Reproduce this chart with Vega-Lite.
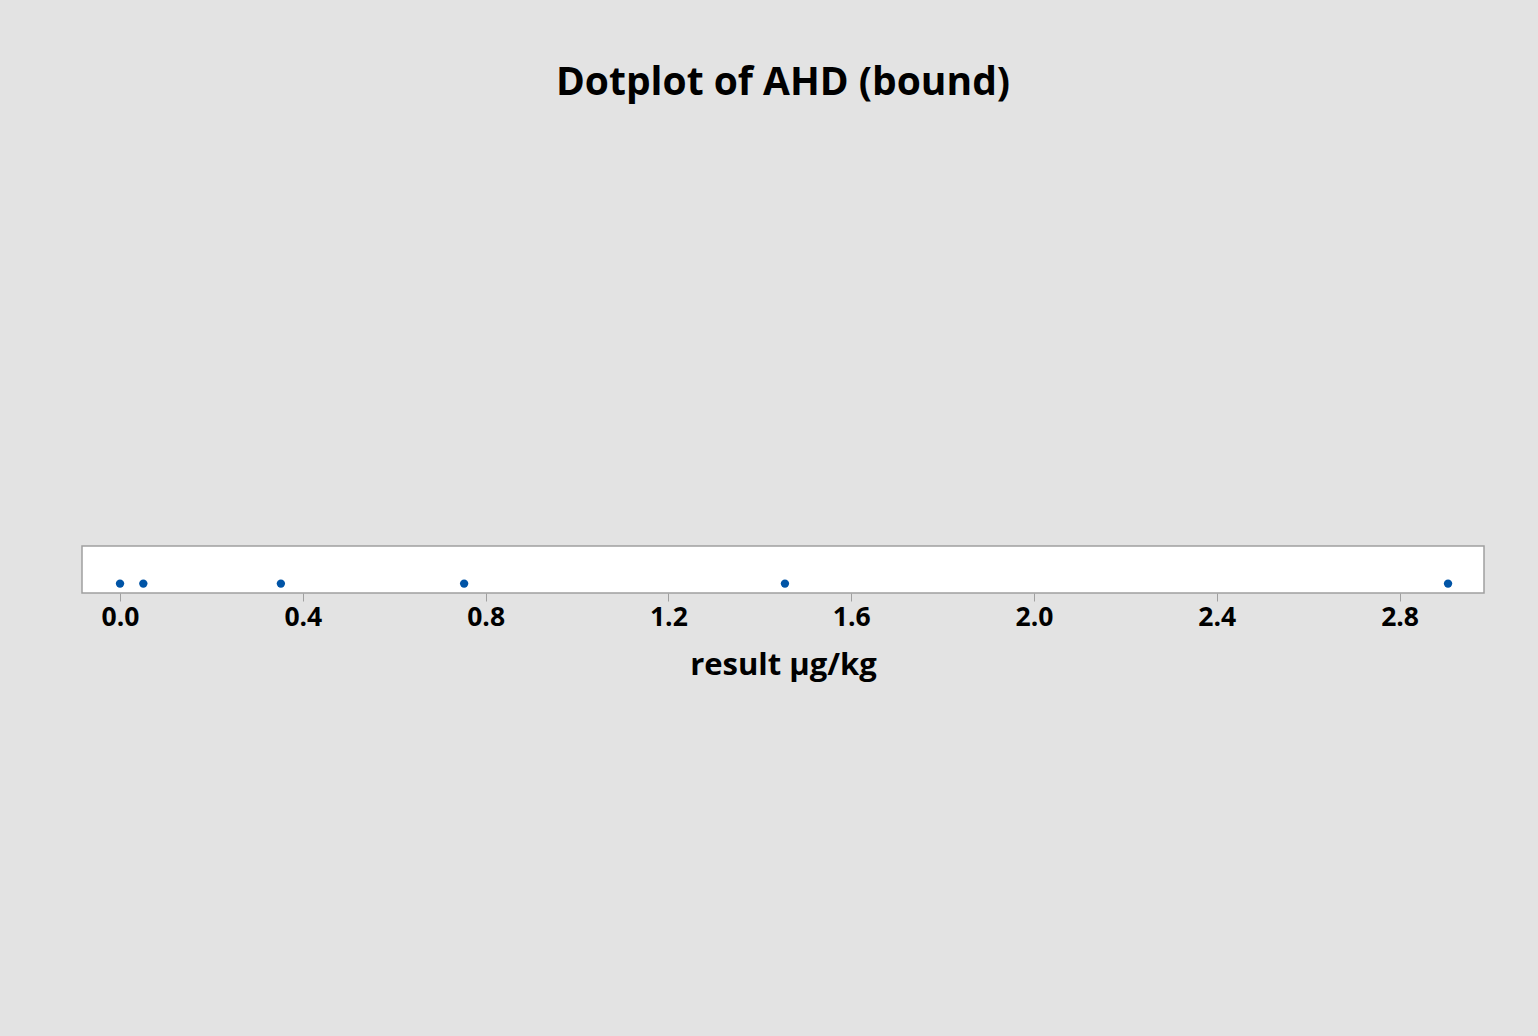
{
  "$schema": "https://vega.github.io/schema/vega-lite/v6.json",
  "autosize": {"type": "none"},
  "width": 1402,
  "height": 47,
  "padding": {"left": 82, "top": 546, "right": 54, "bottom": 443},
  "background": "#e3e3e3",
  "title": {
    "text": "Dotplot of AHD (bound)",
    "font": "Open Sans",
    "fontSize": 39,
    "fontWeight": "bold",
    "color": "#000000",
    "anchor": "middle",
    "baseline": "alphabetic",
    "offset": 412
  },
  "data": {
    "values": [
      {"result": 0.0, "level": 1},
      {"result": 0.051, "level": 1},
      {"result": 0.352, "level": 1},
      {"result": 0.753, "level": 1},
      {"result": 1.455, "level": 1},
      {"result": 2.906, "level": 1}
    ]
  },
  "mark": {"type": "point", "filled": true, "opacity": 1, "size": 70, "color": "#0054a6"},
  "encoding": {
    "x": {
      "field": "result",
      "type": "quantitative",
      "title": "result µg/kg",
      "scale": {"domain": [-0.0832, 2.9847], "nice": false, "zero": false},
      "axis": {
        "values": [0, 0.4, 0.8, 1.2, 1.6, 2.0, 2.4, 2.8],
        "format": ".1f",
        "grid": false,
        "domain": false,
        "tickColor": "#a0a0a0",
        "tickSize": 8,
        "tickWidth": 1,
        "labelFont": "Open Sans",
        "labelFontSize": 26.5,
        "labelFontWeight": "bold",
        "labelColor": "#000000",
        "labelPadding": 3,
        "titleFont": "Open Sans",
        "titleFontSize": 31,
        "titleFontWeight": "bold",
        "titleColor": "#000000",
        "titlePadding": 20
      }
    },
    "y": {
      "field": "level",
      "type": "quantitative",
      "scale": {"domain": [0, 5], "nice": false},
      "axis": null
    }
  },
  "config": {
    "view": {"fill": "#ffffff", "stroke": "#a0a0a0", "strokeWidth": 1.5}
  }
}
